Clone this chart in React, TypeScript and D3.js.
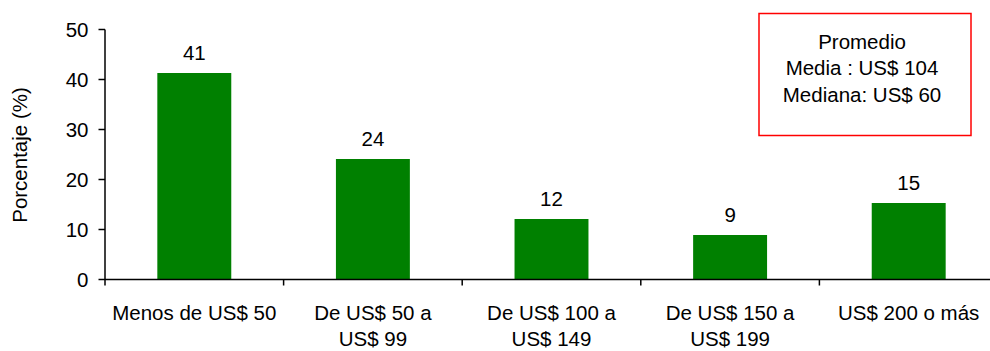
import React from "react";
import * as d3 from "d3";

const categories: string[][] = [
  ["Menos de US$ 50"],
  ["De US$ 50 a", "US$ 99"],
  ["De US$ 100 a", "US$ 149"],
  ["De US$ 150 a", "US$ 199"],
  ["US$ 200 o más"],
];
const values: number[] = [41.3, 24.1, 12.1, 8.9, 15.3];
const valueLabels: string[] = ["41", "24", "12", "9", "15"];
const yTicks: number[] = [0, 10, 20, 30, 40, 50];
const boxLines: string[] = ["Promedio", "Media : US$ 104", "Mediana: US$ 60"];

const W = 990;
const H = 351;
const FONT = "'Liberation Sans', Arial, sans-serif";
const FS = 20.5;

export default function App() {
  const keys = categories.map((c) => c.join(" "));
  const x = d3.scaleBand<string>().domain(keys).range([105, 998]).padding(0);
  const y = d3.scaleLinear().domain([0, 50]).range([279.5, 29.5]);
  const bw = x.bandwidth();
  const barW = bw * 0.414;

  return (
    <svg
      width={W}
      height={H}
      style={{ position: "absolute", left: 0, top: 0, background: "#fff" }}
      fontFamily={FONT}
    >
      {/* bars */}
      {keys.map((k, i) => {
        const cx = (x(k) as number) + bw / 2;
        return (
          <g key={k}>
            <rect
              x={cx - barW / 2}
              y={y(values[i])}
              width={barW}
              height={y(0) - y(values[i])}
              fill="#008000"
            />
            <text
              x={cx}
              y={y(values[i]) - 13}
              textAnchor="middle"
              fontSize={FS}
              fill="#000"
            >
              {valueLabels[i]}
            </text>
            {categories[i].map((line, j) => (
              <text
                key={j}
                x={cx}
                y={320 + j * 26}
                textAnchor="middle"
                fontSize={FS}
                fill="#000"
              >
                {line}
              </text>
            ))}
          </g>
        );
      })}
      {/* y axis */}
      <line x1={105} x2={105} y1={y(50)} y2={y(0) + 6} stroke="#000" strokeWidth={1.5} />
      {yTicks.map((t) => (
        <g key={t}>
          <line x1={98.5} x2={105} y1={y(t)} y2={y(t)} stroke="#000" strokeWidth={1.5} />
          <text x={88.5} y={y(t) + 7.4} textAnchor="end" fontSize={FS} fill="#000">
            {t}
          </text>
        </g>
      ))}
      {/* x axis */}
      <line x1={105} x2={W} y1={y(0)} y2={y(0)} stroke="#000" strokeWidth={1.5} />
      {keys.slice(1).map((k) => (
        <line
          key={k}
          x1={x(k) as number}
          x2={x(k) as number}
          y1={y(0)}
          y2={y(0) + 6}
          stroke="#000"
          strokeWidth={1.5}
        />
      ))}
      {/* y label */}
      <text
        transform={`translate(27,155) rotate(-90)`}
        textAnchor="middle"
        fontSize={FS}
        fill="#000"
      >
        Porcentaje (%)
      </text>
      {/* box */}
      <rect x={759} y={13.5} width={212} height={122} fill="#fff" stroke="#ff0000" strokeWidth={1.5} />
      {boxLines.map((l, i) => (
        <text key={i} x={862} y={48.5 + i * 26.5} textAnchor="middle" fontSize={FS} fill="#000">
          {l}
        </text>
      ))}
    </svg>
  );
}
